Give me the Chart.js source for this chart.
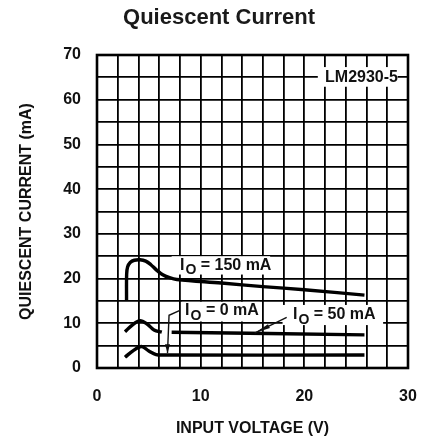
<!DOCTYPE html>
<html><head><meta charset="utf-8">
<script src="https://cdn.jsdelivr.net/npm/chart.js@4.4.0/dist/chart.umd.min.js"></script>
<style>html,body{margin:0;padding:0;background:#fff;overflow:hidden;width:422px;height:438px;} canvas{display:block;}</style>
</head><body>
<canvas id="c" width="422" height="438" style="width:422px;height:438px"></canvas>
<script>
// ---- data ----
const xTickLabels = [0, 10, 20, 30];
const yTickLabels = [0, 10, 20, 30, 40, 50, 60, 70];
const voltage150 = [2.85, 2.86, 2.95, 3.2, 3.6, 4.15, 4.7, 5.2, 5.7, 6.3, 7.0, 7.7, 12, 16, 20, 25.8];
const current150 = [15.2, 21.0, 22.6, 23.6, 24.1, 24.2, 23.9, 23.1, 22.0, 20.9, 20.2, 19.8, 19.0, 18.2, 17.5, 16.3];
const voltage50  = [2.7, 3.4, 4.15, 4.9, 5.5, 6.25, null, 7.2, 25.8];
const current50  = [8.1, 9.6, 10.6, 9.7, 8.5, 8.0, null, 8.0, 7.4];
const voltage0   = [2.7, 3.5, 4.3, 5.0, 5.7, 6.5, 25.8];
const current0   = [2.4, 3.9, 4.8, 3.8, 3.0, 2.9, 2.9];

function pts(xs, ys) { return xs.map((x, i) => ({x: x, y: ys[i]})); }

const LBL = "'Liberation Sans', Arial, sans-serif";

// annotation layout (data coordinates)
const notes = [
  {box: [21.3, 67.3, 29.0, 62.9], text: 'LM2930-5', x: 22.0, y: 65, io: false},
  {box: [7.2, 25.0, 16.7, 20.9], text: ' = 150 mA', x: 8.0, y: 22.9, io: true},
  {box: [8.2, 14.8, 15.7, 10.4], text: ' = 0 mA', x: 8.5, y: 12.8, io: true},
  {box: [17.9, 14.1, 27.6, 9.6], text: ' = 50 mA', x: 18.9, y: 11.9, io: true}
];
const leader0 = [[8.0, 12.9], [6.95, 11.8], [6.8, 3.3]];
const leader50 = [[18.3, 11.3], [15.2, 7.8]];

const annot = {
  id: 'annot',
  afterDatasetsDraw(chart) {
    const ctx = chart.ctx, xs = chart.scales.x, ys = chart.scales.y, a = chart.chartArea;
    const px = v => xs.getPixelForValue(v), py = v => ys.getPixelForValue(v);
    ctx.save();
    ctx.strokeStyle = '#000'; ctx.lineWidth = 2.6;
    ctx.strokeRect(a.left, a.top, a.right - a.left, a.bottom - a.top);
    notes.forEach(n => {
      ctx.fillStyle = '#fff';
      const x1 = px(n.box[0]), y1 = py(n.box[1]), x2 = px(n.box[2]), y2 = py(n.box[3]);
      ctx.fillRect(x1, y1, x2 - x1, y2 - y1);
      ctx.fillStyle = '#111';
      ctx.textBaseline = 'middle'; ctx.textAlign = 'left';
      let x = px(n.x); const y = py(n.y);
      if (n.io) {
        ctx.font = 'bold 16px ' + LBL;
        ctx.fillText('I', x, y); x += ctx.measureText('I').width + 1;
        ctx.font = 'bold 14px ' + LBL;
        ctx.fillText('O', x, y + 5); x += ctx.measureText('O').width;
      }
      ctx.font = 'bold 16px ' + LBL;
      ctx.fillText(n.text, x, y);
    });
    ctx.strokeStyle = '#111'; ctx.fillStyle = '#111'; ctx.lineWidth = 1.4;
    ctx.beginPath();
    leader0.forEach((p, i) => i ? ctx.lineTo(px(p[0]), py(p[1])) : ctx.moveTo(px(p[0]), py(p[1])));
    ctx.stroke();
    let tx = px(leader0[2][0]), ty = py(leader0[2][1]);
    ctx.beginPath(); ctx.moveTo(tx, ty); ctx.lineTo(tx - 2.5, ty - 9); ctx.lineTo(tx + 2.5, ty - 9); ctx.closePath(); ctx.fill();
    const sx = px(leader50[0][0]), sy = py(leader50[0][1]);
    const ex = px(leader50[1][0]), ey = py(leader50[1][1]);
    ctx.beginPath(); ctx.moveTo(sx, sy); ctx.lineTo(ex, ey); ctx.stroke();
    const dx = sx - ex, dy = sy - ey, L = Math.hypot(dx, dy), ux = dx / L, uy = dy / L;
    ctx.beginPath(); ctx.moveTo(ex, ey);
    ctx.lineTo(ex + ux * 16 - uy * 2.2, ey + uy * 16 + ux * 2.2);
    ctx.lineTo(ex + ux * 16 + uy * 2.2, ey + uy * 16 - ux * 2.2);
    ctx.closePath(); ctx.fill();
    ctx.fillStyle = '#1a1a1a';
    ctx.font = 'bold 22px ' + LBL; ctx.textAlign = 'center'; ctx.textBaseline = 'middle';
    ctx.fillText('Quiescent Current', 219, 18);
    ctx.restore();
  }
};

const lineStyle = {borderColor: '#000', borderWidth: 3.4, pointRadius: 0, fill: false, tension: 0.35, spanGaps: false};

new Chart(document.getElementById('c'), {
  type: 'line',
  data: {
    datasets: [
      Object.assign({label: 'IO = 150 mA', data: pts(voltage150, current150)}, lineStyle),
      Object.assign({label: 'IO = 50 mA', data: pts(voltage50, current50)}, lineStyle),
      Object.assign({label: 'IO = 0 mA', data: pts(voltage0, current0)}, lineStyle)
    ]
  },
  options: {
    responsive: false,
    animation: false,
    devicePixelRatio: 1,
    layout: {padding: {top: 55, right: 14, left: 0, bottom: 0}},
    plugins: {legend: {display: false}, title: {display: false}, tooltip: {enabled: false}},
    scales: {
      x: {
        type: 'linear', min: 0, max: 30,
        afterFit: s => { s.height = 70; },
        grid: {color: '#000', lineWidth: 1.8, drawTicks: true, tickLength: 19, tickColor: 'rgba(0,0,0,0)'},
        border: {display: false},
        ticks: {stepSize: 2, autoSkip: false, maxRotation: 0, padding: 0, color: '#111',
          font: {family: LBL, weight: 'bold', size: 16},
          callback: v => xTickLabels.includes(v) ? String(v) : ''},
        title: {display: true, text: 'INPUT VOLTAGE (V)', color: '#111', padding: {top: 0, bottom: 0},
          font: {family: LBL, weight: 'bold', size: 16}}
      },
      y: {
        type: 'linear', min: 0, max: 70,
        afterFit: s => { s.width = 97; },
        grid: {color: '#000', lineWidth: 1.8, drawTicks: false},
        border: {display: false},
        ticks: {stepSize: 5, autoSkip: false, padding: 16, color: '#111',
          font: {family: LBL, weight: 'bold', size: 16},
          callback: v => yTickLabels.includes(v) ? String(v) : ''},
        title: {display: true, text: 'QUIESCENT CURRENT (mA)', color: '#111', padding: {top: 17, bottom: 0},
          font: {family: LBL, weight: 'bold', size: 16}}
      }
    }
  },
  plugins: [annot]
});
</script>
</body></html>
